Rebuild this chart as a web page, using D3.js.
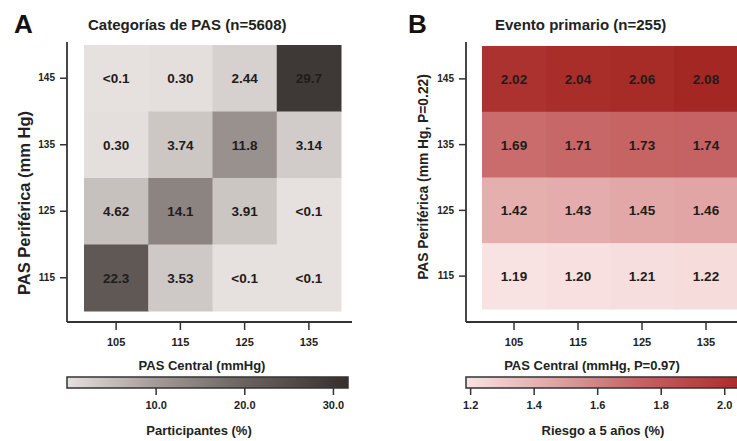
<!DOCTYPE html>
<html><head><meta charset="utf-8">
<script src="https://cdn.jsdelivr.net/npm/d3@7"></script>
<style>
body{margin:0;background:#fff;}
text{font-family:"Liberation Sans",Arial,sans-serif;}
</style></head>
<body><svg id="c" width="737" height="441"></svg>
<script>
const centralCats = [105, 115, 125, 135];
const periphCats = [145, 135, 125, 115];
// Panel A: participants (%) per row (periph) x col (central)
const partValues = [
  [0.05, 0.30, 2.44, 29.7],
  [0.30, 3.74, 11.8, 3.14],
  [4.62, 14.1, 3.91, 0.05],
  [22.3, 3.53, 0.05, 0.05]
];
const partLabels = [
  ["<0.1", "0.30", "2.44", "29.7"],
  ["0.30", "3.74", "11.8", "3.14"],
  ["4.62", "14.1", "3.91", "<0.1"],
  ["22.3", "3.53", "<0.1", "<0.1"]
];
// Panel B: 5-year risk (%)
const riskValues = [
  [2.02, 2.04, 2.06, 2.08],
  [1.69, 1.71, 1.73, 1.74],
  [1.42, 1.43, 1.45, 1.46],
  [1.19, 1.20, 1.21, 1.22]
];
const partTicks = [10, 20, 30];
const riskTicks = [1.2, 1.4, 1.6, 1.8, 2.0];

const svg = d3.select("#c");
const axisColor = "#333";

const grayScale = d3.scaleLinear().domain([0, 10, 20, 31.7])
  .range(["#e6e1df", "#a39b98", "#6a625f", "#35302d"]);
const redScale = d3.scaleLinear().domain([1.187, 1.45, 1.7, 2.1])
  .range(["#f9e3e3", "#e2a8a7", "#c9696a", "#a3241f"]);

function panel(opt) {
  const g = svg.append("g");
  const x = d3.scaleBand().domain(centralCats).range(opt.xr);
  const y = d3.scaleBand().domain(periphCats).range([opt.yTop, opt.yBot]);
  const cells = [];
  periphCats.forEach((p, i) => centralCats.forEach((c, j) =>
    cells.push({p, c, v: opt.values[i][j], lab: opt.labels[i][j]})));
  g.selectAll("rect.cell").data(cells).join("rect")
    .attr("x", d => x(d.c)).attr("y", d => y(d.p))
    .attr("width", x.bandwidth() + 0.5).attr("height", y.bandwidth() + 0.5)
    .attr("fill", d => opt.color(d.v));
  g.selectAll("text.cell").data(cells).join("text")
    .attr("x", d => x(d.c) + x.bandwidth() / 2)
    .attr("y", d => y(d.p) + y.bandwidth() / 2 + 5)
    .attr("text-anchor", "middle")
    .attr("font-size", 13.5).attr("font-weight", "bold")
    .attr("fill", "#1f1c1b")
    .text(d => d.lab);

  // axes
  const ay = g.append("g").attr("transform", `translate(${opt.ax},0)`)
    .call(d3.axisLeft(y).tickSize(7).tickPadding(5));
  const axb = g.append("g").attr("transform", `translate(0,${opt.ay})`)
    .call(d3.axisBottom(x).tickSize(8).tickPadding(8));
  [ay, axb].forEach(a => {
    a.select(".domain").remove();
    a.selectAll("line").attr("stroke", axisColor).attr("stroke-width", 1.5);
    a.selectAll("text").attr("font-size", 11).attr("font-weight", "bold")
      .attr("fill", "#222").style("font-family", '"Liberation Sans",Arial,sans-serif');
  });
  ay.selectAll("text").attr("font-size", 10);
  g.append("line").attr("x1", opt.ax).attr("x2", opt.ax).attr("y1", 42).attr("y2", opt.ay)
    .attr("stroke", axisColor).attr("stroke-width", 1.8);
  g.append("line").attr("x1", opt.ax).attr("x2", opt.axEnd).attr("y1", opt.ay).attr("y2", opt.ay)
    .attr("stroke", axisColor).attr("stroke-width", 1.8);

  // titles
  g.append("text").attr("x", opt.letterX).attr("y", 33).attr("font-size", 26)
    .attr("font-weight", "bold").attr("fill", "#111").text(opt.letter);
  g.append("text").attr("x", opt.titleX).attr("y", 30).attr("font-size", 15)
    .attr("font-weight", "bold").attr("fill", "#222").text(opt.title);
  g.append("text").attr("x", opt.xTitleX).attr("y", 370).attr("text-anchor", "middle")
    .attr("font-size", 13).attr("font-weight", "bold").attr("fill", "#222").text(opt.xTitle);
  g.append("text").attr("transform", `translate(${opt.yTitleX},${opt.yTitleY}) rotate(-90)`)
    .attr("text-anchor", "middle").attr("font-size", opt.yTitleSize).attr("font-weight", "bold")
    .attr("fill", "#222").text(opt.yTitle);

  // colorbar
  const cs = d3.scaleLinear().domain(opt.cbDomain).range(opt.cbRange);
  const gid = "grad" + opt.letter;
  const grad = svg.append("defs").append("linearGradient").attr("id", gid)
    .attr("x1", "0%").attr("x2", "100%");
  d3.range(0, 1.0001, 0.05).forEach(t => {
    grad.append("stop").attr("offset", (t * 100) + "%")
      .attr("stop-color", opt.color(opt.cbDomain[0] + t * (opt.cbDomain[1] - opt.cbDomain[0])));
  });
  g.append("rect").attr("x", opt.cbRange[0]).attr("y", 377)
    .attr("width", opt.cbRange[1] - opt.cbRange[0]).attr("height", 11)
    .attr("fill", `url(#${gid})`).attr("stroke", "#333").attr("stroke-width", 1.5);
  const cax = g.append("g").attr("transform", "translate(0,388)")
    .call(d3.axisBottom(cs).tickValues(opt.cbTicks).tickSize(7).tickPadding(6)
      .tickFormat(d3.format(".1f")));
  cax.select(".domain").remove();
  cax.selectAll("line").attr("stroke", axisColor).attr("stroke-width", 1.5);
  cax.selectAll("text").attr("font-size", 11).attr("font-weight", "bold").attr("fill", "#222")
    .style("font-family", '"Liberation Sans",Arial,sans-serif');
  g.append("text").attr("x", opt.cbTitleX).attr("y", 435).attr("text-anchor", "middle")
    .attr("font-size", 13).attr("font-weight", "bold").attr("fill", "#222").text(opt.cbTitle);
}

panel({
  letter: "A", letterX: 14, title: "Categorías de PAS (n=5608)", titleX: 88,
  values: partValues, labels: partLabels, color: grayScale,
  xr: [84, 341], yTop: 45, yBot: 311, ax: 67, ay: 322, axEnd: 352,
  xTitle: "PAS Central (mmHg)", xTitleX: 202,
  yTitle: "PAS Periférica (mm Hg)", yTitleX: 30, yTitleY: 203, yTitleSize: 16.5,
  cbDomain: [0, 31.7], cbRange: [67, 348], cbTicks: partTicks,
  cbTitle: "Participantes (%)", cbTitleX: 199
});
panel({
  letter: "B", letterX: 408, title: "Evento primario (n=255)", titleX: 495,
  values: riskValues, labels: riskValues.map(r => r.map(v => v.toFixed(2))), color: redScale,
  xr: [482, 738], yTop: 46, yBot: 309, ax: 466, ay: 322, axEnd: 760,
  xTitle: "PAS Central (mmHg, P=0.97)", xTitleX: 592,
  yTitle: "PAS Periférica (mm Hg, P=0.22)", yTitleX: 428, yTitleY: 177, yTitleSize: 13.8,
  cbDomain: [1.187, 2.1], cbRange: [466, 756], cbTicks: riskTicks,
  cbTitle: "Riesgo a 5 años (%)", cbTitleX: 603
});
</script></body></html>
